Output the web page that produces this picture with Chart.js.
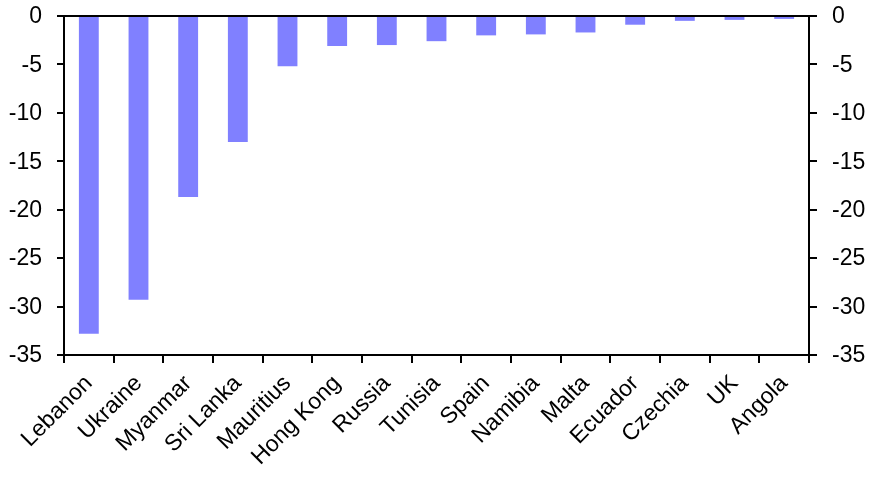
<!DOCTYPE html>
<html>
<head>
<meta charset="utf-8">
<script src="https://cdn.jsdelivr.net/npm/chart.js@4.4.1/dist/chart.umd.min.js"></script>
<style>
html,body{margin:0;padding:0;background:#fff;}
#wrap{width:873px;height:482px;position:relative;}
</style>
</head>
<body>
<div id="wrap"><canvas id="c" width="873" height="482"></canvas></div>
<script>
const categories = ["Lebanon","Ukraine","Myanmar","Sri Lanka","Mauritius","Hong Kong","Russia","Tunisia","Spain","Namibia","Malta","Ecuador","Czechia","UK","Angola"];
const values = [-32.8,-29.3,-18.7,-13.0,-5.2,-3.1,-3.0,-2.6,-2.0,-1.9,-1.7,-0.9,-0.5,-0.4,-0.3];
const yMin = -35;
const yMax = 0;
const yStep = 5;

const FONT = {family: "'Liberation Sans', Arial, sans-serif", size: 23};

function fitY(s) { s.width = 64; s.paddingTop = 0; s.paddingBottom = 0; }

new Chart(document.getElementById('c'), {
  type: 'bar',
  data: {
    labels: categories,
    datasets: [{
      data: values,
      backgroundColor: '#8080FF',
      borderWidth: 0,
      categoryPercentage: 1,
      barPercentage: 0.4
    }]
  },
  options: {
    responsive: false,
    animation: false,
    devicePixelRatio: 1,
    layout: {padding: {top: 16, left: 0, right: 0, bottom: 0}},
    plugins: {legend: {display: false}, tooltip: {enabled: false}},
    scales: {
      x: {
        position: 'bottom',
        offset: true,
        grid: {offset: true, drawOnChartArea: false, color: '#000', lineWidth: 2, tickLength: 8},
        border: {display: true, color: '#000', width: 2},
        ticks: {color: '#000', font: FONT, maxRotation: 45, minRotation: 45, autoSkip: false, padding: 7},
        afterFit: s => { s.height = 127; s.paddingLeft = 0; s.paddingRight = 0; }
      },
      y: {
        position: 'left',
        min: yMin, max: yMax,
        grid: {
          drawOnChartArea: true,
          color: ctx => (ctx.tick && ctx.tick.value === 0) ? '#000' : 'rgba(0,0,0,0)',
          tickColor: '#000',
          lineWidth: 2,
          tickLength: 7
        },
        border: {display: true, color: '#000', width: 2},
        ticks: {color: '#000', font: FONT, stepSize: yStep, padding: 15, labelOffset: 1},
        afterFit: fitY
      },
      y2: {
        position: 'right',
        min: yMin, max: yMax,
        grid: {drawOnChartArea: false, color: '#000', lineWidth: 2, tickLength: 8},
        border: {display: true, color: '#000', width: 2},
        ticks: {color: '#000', font: FONT, stepSize: yStep, padding: 15, labelOffset: 1},
        afterFit: fitY
      }
    }
  }
});
</script>
</body>
</html>
